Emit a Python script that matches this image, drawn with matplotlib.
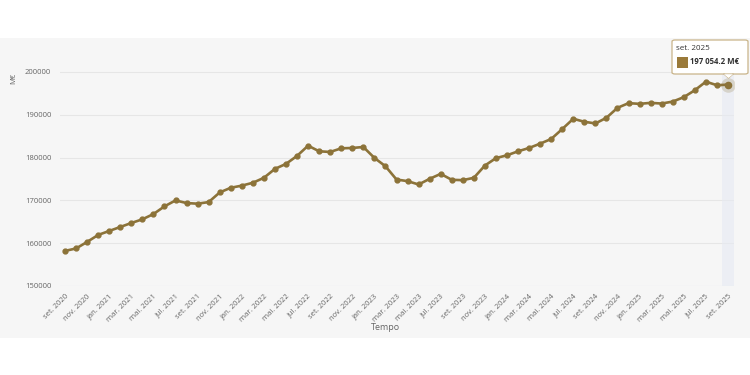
import matplotlib
matplotlib.use('Agg')
import matplotlib.pyplot as plt
from matplotlib.patches import Rectangle, FancyBboxPatch, Polygon

plt.rcParams['font.family'] = ['Open Sans', 'DejaVu Sans']

# meses (set. 2020 -> set. 2025)
meses_pt = ['jan.', 'fev.', 'mar.', 'abr.', 'mai.', 'jun.',
            'jul.', 'ago.', 'set.', 'out.', 'nov.', 'dez.']
start_month, start_year, n_months = 9, 2020, 61

# valores em M€
valores = [
    158200, 158770, 160300, 161930, 162860, 163790, 164720, 165580, 166810, 168600,
    170000, 169380, 169230, 169610, 171860, 172950, 173450, 174120, 175280, 177370,
    178530, 180400, 182790, 181470, 181320, 182170, 182250, 182480, 179930, 177980,
    174880, 174500, 173720, 175040, 176200, 174810, 174730, 175280, 178140, 179880,
    180540, 181470, 182250, 183260, 184350, 186670, 189070, 188370, 187980, 189300,
    191630, 192720, 192560, 192790, 192630, 193090, 194120, 195740, 197740, 196910,
    197054.2,
]
y_ticks = [150000, 160000, 170000, 180000, 190000, 200000]

labels = []
for i in range(n_months):
    m = (start_month - 1 + i) % 12
    y = start_year + (start_month - 1 + i) // 12
    labels.append(f'{meses_pt[m]} {y}')

line_col = '#8c7339'
txt_col = '#666666'
W, H = 750, 375

fig = plt.figure(figsize=(7.5, 3.75), dpi=100)
fig.patch.set_facecolor('white')
# painel cinzento
fig.patches.append(Rectangle((0, 37 / H), 1, 300 / H, transform=fig.transFigure,
                             facecolor='#f6f6f6', edgecolor='none', zorder=-10))

ax = fig.add_axes([59.5 / W, 1 - 286 / H, 674 / W, 231 / H])
ax.set_facecolor('none')
x = list(range(n_months))
ax.set_xlim(-0.5, n_months - 0.5)
ax.set_ylim(150000, 200000 + 17 / 4.28 * 1000)

for t in y_ticks:
    ax.axhline(t, color='#e6e6e6' if t != 150000 else '#d8dde8', lw=0.8, zorder=1)

# destaque do ultimo ponto
ax.axvspan(x[-1] - 0.5, x[-1] + 0.5, color='#e6eaf3', alpha=0.6, lw=0, zorder=1)

ax.plot(x, valores, color=line_col, lw=1.9, marker='o', ms=3.5, zorder=3)
ax.scatter([x[-1]], [valores[-1]], s=110, color=line_col, alpha=0.22, lw=0, zorder=4)
ax.scatter([x[-1]], [valores[-1]], s=30, color=line_col, lw=0, zorder=5)

for s in ax.spines.values():
    s.set_visible(False)
ax.set_yticks(y_ticks)
ax.set_yticklabels([str(t) for t in y_ticks], fontsize=5.5, color=txt_col)
ax.set_xticks(x[::2])
ax.set_xticklabels(labels[::2], fontsize=5.5, color=txt_col, rotation=45,
                   ha='right', rotation_mode='anchor')
ax.tick_params(axis='both', length=0)
ax.tick_params(axis='y', pad=6)
ax.tick_params(axis='x', pad=5)

fig.text(385 / W, 1 - 327 / H, 'Tempo', fontsize=6.5, color=txt_col,
         ha='center', va='center')
fig.text(14 / W, 1 - 78 / H, 'M€', fontsize=5.5, color=txt_col,
         ha='center', va='center', rotation=90)

# tooltip
box = FancyBboxPatch((672 / W, 1 - 74 / H), 76 / W, 34 / H,
                     boxstyle='round,pad=0,rounding_size=0.004',
                     transform=fig.transFigure, facecolor='white',
                     edgecolor='#c9b48a', lw=0.9, zorder=10)
fig.patches.append(box)
fig.patches.append(Polygon([(724 / W, 1 - 74.3 / H), (733 / W, 1 - 74.3 / H),
                            (728.5 / W, 1 - 78 / H)], closed=True,
                           transform=fig.transFigure, facecolor='white',
                           edgecolor='none', zorder=11))
fig.lines.append(plt.Line2D([724 / W, 728.5 / W, 733 / W],
                            [1 - 74 / H, 1 - 78 / H, 1 - 74 / H],
                            transform=fig.transFigure, color='#c9b48a', lw=0.9,
                            zorder=11))
fig.text(676 / W, 1 - 49 / H, labels[-1], fontsize=5.8, color='#333333',
         ha='left', va='center', zorder=12)
fig.patches.append(Rectangle((676.5 / W, 1 - 67.5 / H), 11 / W, 11 / H,
                             transform=fig.transFigure, facecolor='#9a7a3a',
                             edgecolor='none', zorder=12))
val_txt = f'{valores[-1]:,.1f}'.replace(',', ' ') + ' M€'
fig.text(690 / W, 1 - 62 / H, val_txt, fontsize=5.6, color='#333333',
         fontweight='bold', ha='left', va='center', zorder=12)

fig.savefig('out.png', dpi=100)
